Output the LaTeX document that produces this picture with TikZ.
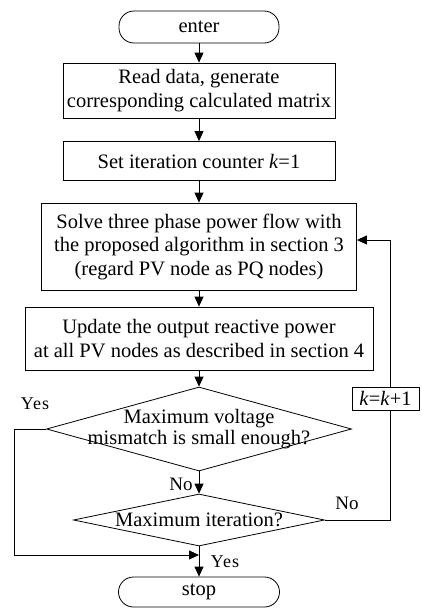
\documentclass[tikz,border=0pt]{standalone}
\usepackage{fontspec}
\setmainfont{Liberation Serif}
\newfontfamily\labelwide[LetterSpace=6]{Liberation Serif}
\usetikzlibrary{arrows.meta,shapes.geometric}

\begin{document}
\begin{tikzpicture}[x=1pt,y=-1pt,
  every node/.style={font=\fontsize{20.5}{23.5}\selectfont},
  line/.style={line width=0.8pt},
  flow/.style={line, -{Triangle[length=10pt,width=9pt]}},
  terminal/.style={draw, line width=0.8pt, rounded corners=15pt,
                   minimum width=160pt, minimum height=32pt, inner sep=0pt},
  process/.style={draw, line width=0.8pt, align=center, inner sep=0pt},
  decision/.style={draw, diamond, line width=0.8pt, inner sep=0pt},
  dtext/.style={align=center, inner sep=0pt, font=\fontsize{20.5}{21}\selectfont},
  yes/.style={inner sep=0pt, font=\labelwide\fontsize{18}{18}\selectfont},
  no/.style={inner sep=0pt, font=\fontsize{19}{19}\selectfont}]

  \useasboundingbox (0,0) rectangle (422,608);

  % main column
  \node[terminal] (enter) at (199,27) {enter};
  \node[process, minimum width=272pt, minimum height=55pt] (read) at (199,90.5)
    {Read data, generate\\corresponding calculated matrix};
  \node[process, minimum width=272pt, minimum height=39pt] (init) at (199,161)
    {Set iteration counter \textit{k}=1};
  \node[process, minimum width=315pt, minimum height=87pt] (solve) at (199,246.5)
    {Solve three phase power flow with\\the proposed algorithm in section 3\\(regard PV node as PQ nodes)};
  \node[process, minimum width=348pt, minimum height=63pt] (update) at (199,338.5)
    {Update the output reactive power\\at all PV nodes as described in section 4};
  \node[decision, minimum width=305pt, minimum height=84pt] (conv) at (199,429) {};
  \node[dtext] at (conv) {Maximum voltage\\mismatch is small enough?};
  \node[decision, minimum width=251pt, minimum height=52pt] (maxit) at (199,520) {};
  \node[dtext] at (maxit) {Maximum iteration?};
  \node[terminal, minimum width=161pt, minimum height=30pt] (stop) at (199,592) {stop};

  % counter update on the return branch
  \node[process, minimum width=67pt, minimum height=23pt] (inc) at (385.5,398.5)
    {\textit{k}=\textit{k}+1};

  % routing helpers
  \coordinate (lx) at (14,0);
  \coordinate (rx) at (390,0);
  \coordinate (merge) at (199,555);

  % connectors
  \draw[flow] (enter) -- (read);
  \draw[flow] (read) -- (init);
  \draw[flow] (init) -- (solve);
  \draw[flow] (solve) -- (update);
  \draw[flow] (update) -- (conv);
  \draw[flow] (conv) -- (maxit);
  \draw[flow] (maxit) -- (stop);
  \draw[flow] (conv.west) -- (conv.west -| lx) |- (merge);
  \draw[line] (maxit.east) -| (inc.south -| rx);
  \draw[flow] (inc.north -| rx) |- ([yshift=6.5pt]solve.east);

  % branch labels
  \node[yes] at (35,404) {Yes};
  \node[no] at (181,484) {No};
  \node[no] at (347,503) {No};
  \node[yes] at (225,562) {Yes};
\end{tikzpicture}
\end{document}
